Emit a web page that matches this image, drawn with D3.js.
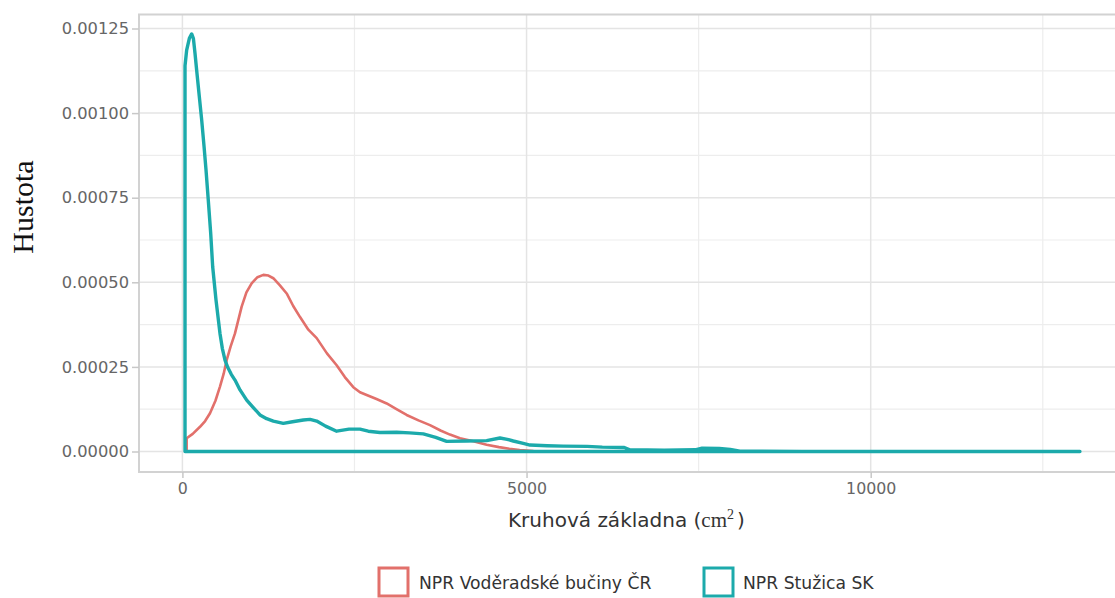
<!DOCTYPE html>
<html>
<head>
<meta charset="utf-8">
<script src="https://cdn.jsdelivr.net/npm/d3@7"></script>
<style>
  html, body { margin: 0; padding: 0; background: #fff; }
  svg { display: block; }
</style>
</head>
<body>
<svg id="chart" width="1115" height="598"></svg>
<script>
// ---- data ----
const seriesNames = ["NPR Voděradské bučiny ČR", "NPR Stužica SK"];
const xTicks = [0, 5000, 10000];
const xTickLabels = ["0", "5000", "10000"];
const yTicks = [0, 0.00025, 0.0005, 0.00075, 0.001, 0.00125];
const yTickLabels = ["0.00000", "0.00025", "0.00050", "0.00075", "0.00100", "0.00125"];

// density outlines (x = basal area cm², y = density)
const voderadskeX = [62, 62, 150, 256, 330, 401, 480, 546, 600, 643, 700, 764, 861, 930, 1006, 1090, 1176, 1250, 1321, 1420, 1515, 1610, 1707, 1830, 1951, 2100, 2241, 2360, 2483, 2580, 2677, 2820, 2968, 3110, 3258, 3430, 3597, 3750, 3887, 4033, 4227, 4420, 4600, 4750, 4900, 5100, 5300];
const voderadskeY = [0, 0.000039, 0.000052, 0.000073, 0.00009, 0.000113, 0.00015, 0.000192, 0.00023, 0.00027, 0.00031, 0.000349, 0.000428, 0.00047, 0.000497, 0.000515, 0.000522, 0.00052, 0.000512, 0.00049, 0.000467, 0.00043, 0.000398, 0.00036, 0.000335, 0.00029, 0.000255, 0.00022, 0.00019, 0.000175, 0.000167, 0.000155, 0.000142, 0.000125, 0.000108, 0.000092, 0.000078, 0.000062, 0.00005, 0.000039, 0.00003, 0.00002, 0.000013, 0.000008, 0.000004, 0.000001, 0];

const stuzicaX = [38, 38, 62, 101, 135, 160, 183, 207, 245, 280, 315, 343, 376, 411, 440, 488, 546, 580, 619, 660, 710, 764, 837, 934, 1030, 1127, 1224, 1321, 1466, 1600, 1757, 1854, 1951, 2080, 2241, 2420, 2580, 2700, 2870, 3113, 3300, 3500, 3680, 3839, 4130, 4420, 4614, 4720, 4807, 4952, 5050, 5300, 5530, 5880, 6100, 6420, 6500, 7000, 7450, 7550, 7800, 7960, 8100, 9000, 10000, 13040];
const stuzicaY = [0, 0.00114, 0.001186, 0.001221, 0.001234, 0.00122, 0.001177, 0.001127, 0.00105, 0.00098, 0.0009, 0.000832, 0.000743, 0.000645, 0.000546, 0.000448, 0.000349, 0.000305, 0.00027, 0.000248, 0.000228, 0.000211, 0.000182, 0.000152, 0.00013, 0.000108, 0.000097, 0.00009, 0.000083, 0.000088, 0.000093, 0.000095, 0.00009, 0.000075, 0.00006, 0.000066, 0.000066, 0.00006, 0.000056, 0.000057, 0.000055, 0.000052, 0.000042, 0.00003, 0.000031, 0.000032, 0.00004, 0.000036, 0.000031, 0.000024, 0.000019, 0.000017, 0.000016, 0.000015, 0.000013, 0.000012, 0.000005, 0.000004, 0.000005, 0.00001, 0.000009, 0.000006, 0.000001, 0.0000005, 0, 0];

const colors = ["#e2706b", "#1caaab"];

// ---- layout ----
const svg = d3.select("#chart");
const panel = { left: 139, top: 14.5, right: 1125, bottom: 472 };

const x = d3.scaleLinear().domain([0, 10000]).range([182.4, 870.7]);
const y = d3.scaleLinear().domain([0, 0.00125]).range([451.5, 28.5]);

const g = svg.append("g");

// minor gridlines
const xMinor = [2500, 7500, 12500];
const yMinor = [0.000125, 0.000375, 0.000625, 0.000875, 0.001125];
g.selectAll(".xminor").data(xMinor).enter().append("line")
  .attr("x1", d => x(d)).attr("x2", d => x(d))
  .attr("y1", panel.top).attr("y2", panel.bottom)
  .attr("stroke", "#ededed").attr("stroke-width", 1.2);
g.selectAll(".yminor").data(yMinor).enter().append("line")
  .attr("x1", panel.left).attr("x2", panel.right)
  .attr("y1", d => y(d)).attr("y2", d => y(d))
  .attr("stroke", "#ededed").attr("stroke-width", 1.2);

// major gridlines
g.selectAll(".xmajor").data(xTicks).enter().append("line")
  .attr("x1", d => x(d)).attr("x2", d => x(d))
  .attr("y1", panel.top).attr("y2", panel.bottom)
  .attr("stroke", "#e4e4e4").attr("stroke-width", 1.5);
g.selectAll(".ymajor").data(yTicks).enter().append("line")
  .attr("x1", panel.left).attr("x2", panel.right)
  .attr("y1", d => y(d)).attr("y2", d => y(d))
  .attr("stroke", "#e4e4e4").attr("stroke-width", 1.5);

// density outlines
const line = d3.line().x(d => x(d[0])).y(d => y(d[1]));
const series = [
  d3.zip(voderadskeX, voderadskeY),
  d3.zip(stuzicaX, stuzicaY)
];
series.forEach((pts, i) => {
  g.append("path")
    .attr("d", line(pts) + "Z")
    .attr("fill", "none")
    .attr("stroke", colors[i])
    .attr("stroke-width", i === 1 ? 3.4 : 2.6)
    .attr("stroke-linejoin", "round");
});

// panel border
g.append("rect")
  .attr("x", panel.left).attr("y", panel.top)
  .attr("width", panel.right - panel.left).attr("height", panel.bottom - panel.top)
  .attr("fill", "none").attr("stroke", "#d2d2d2").attr("stroke-width", 2);

// axes
const yAxis = d3.axisLeft(y).tickValues(yTicks).tickFormat((d, i) => yTickLabels[i]).tickSize(7).tickPadding(3);
const yg = svg.append("g").attr("transform", `translate(${panel.left},0)`).call(yAxis);
yg.select(".domain").remove();
yg.selectAll(".tick line").attr("stroke", "#c8c8c8").attr("stroke-width", 1.5);
yg.selectAll(".tick text").attr("font-family", "DejaVu Sans, sans-serif").attr("font-size", 16.3).attr("fill", "#666");

const xAxis = d3.axisBottom(x).tickValues(xTicks).tickFormat((d, i) => xTickLabels[i]).tickSize(6).tickPadding(5);
const xg = svg.append("g").attr("transform", `translate(0,${panel.bottom})`).call(xAxis);
xg.select(".domain").remove();
xg.selectAll(".tick line").attr("stroke", "#c8c8c8").attr("stroke-width", 1.5);
xg.selectAll(".tick text").attr("font-family", "DejaVu Sans, sans-serif").attr("font-size", 15.8).attr("fill", "#666");

// axis titles
const xt = svg.append("text").attr("x", 508).attr("y", 527)
  .attr("font-family", "DejaVu Sans, sans-serif").attr("font-size", 20).attr("fill", "#333");
xt.append("tspan").text("Kruhová základna (");
xt.append("tspan").attr("font-family", "Liberation Serif, serif").attr("font-size", 21).text("cm");
xt.append("tspan").attr("font-family", "Liberation Serif, serif").attr("font-size", 14).attr("dy", -8).text("2");
xt.append("tspan").attr("dy", 8).attr("dx", 3).text(")");

svg.append("text")
  .attr("transform", "translate(33,207) rotate(-90)")
  .attr("text-anchor", "middle")
  .attr("font-family", "Liberation Serif, serif").attr("font-size", 30).attr("fill", "#111")
  .text("Hustota");

// legend
const legendItems = [
  { name: seriesNames[0], color: colors[0], bx: 379, tx: 419 },
  { name: seriesNames[1], color: colors[1], bx: 704, tx: 743 }
];
const lg = svg.append("g");
legendItems.forEach(it => {
  lg.append("rect").attr("x", it.bx).attr("y", 568).attr("width", 29).attr("height", 28)
    .attr("fill", "#fff").attr("stroke", it.color).attr("stroke-width", 3);
  lg.append("text").attr("x", it.tx).attr("y", 589)
    .attr("font-family", "DejaVu Sans, sans-serif").attr("font-size", 17.2).attr("fill", "#333")
    .text(it.name);
});
</script>
</body>
</html>
